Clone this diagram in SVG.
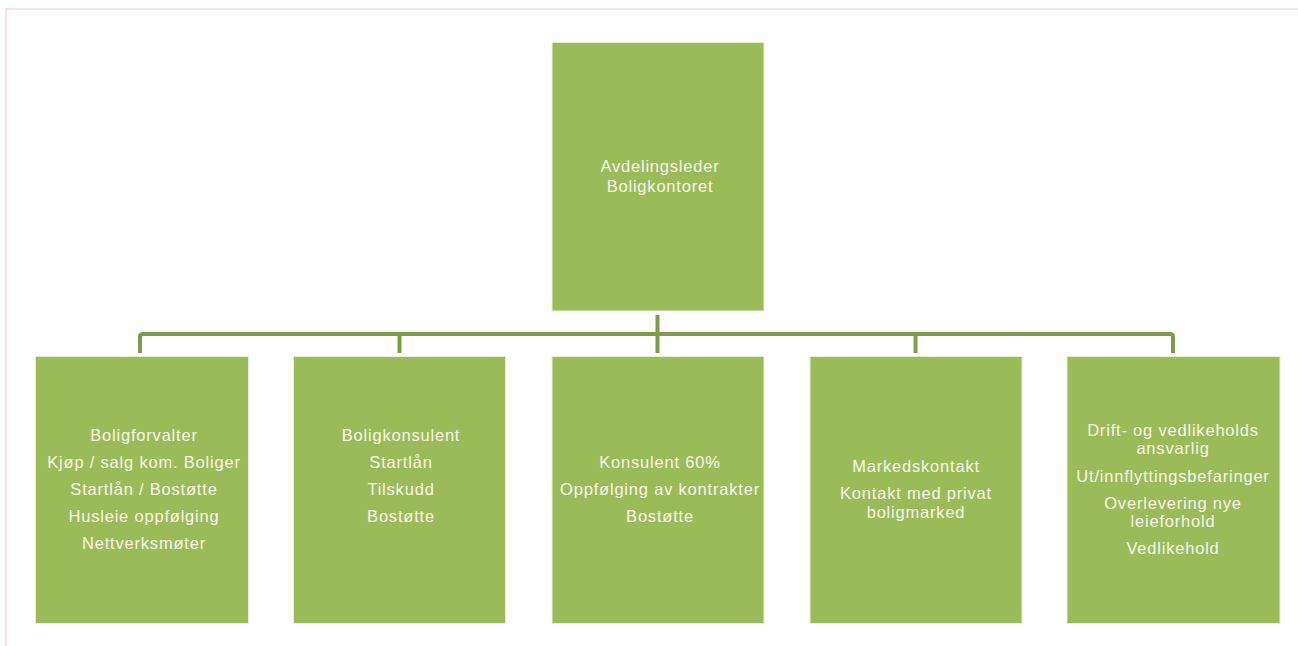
<svg xmlns="http://www.w3.org/2000/svg" width="1298" height="646" viewBox="0 0 1298 646">
  <style>
    .frame { fill: none; stroke: #fbd6de; stroke-width: 1.6; }
    .box { fill: #9bbb59; stroke: #e6efd6; stroke-width: 1; }
    .lbl { font-family: "Liberation Sans", Arial, sans-serif; font-size: 16.5px; fill: #f6f8ec; text-anchor: middle; letter-spacing: 0.8px; }
    .link { fill: none; stroke: #7d9b48; stroke-width: 4; stroke-linejoin: round; }
  </style>

  <rect width="1298" height="646" fill="#ffffff"/>
  <!-- page frame -->
  <path class="frame" d="M6 646 V9 H1298"/>

  <!-- connectors -->
  <g id="connectors">
    <path class="link" d="M657.5 315 V353"/>
    <path class="link" d="M140 353 V337 Q140 334 143 334 H1170 Q1173 334 1173 337 V353"/>
    <path class="link" d="M399.5 334 V353"/>
    <path class="link" d="M915.5 334 V353"/>
  </g>

  <g id="node-leder">
    <rect class="box" x="552" y="42.5" width="212" height="268.5"/>
    <text class="lbl" x="660" y="172">Avdelingsleder</text>
    <text class="lbl" x="660" y="192">Boligkontoret</text>
  </g>

  <g id="node-boligforvalter">
    <rect class="box" x="35.5" y="356.5" width="213" height="267"/>
    <text class="lbl" x="144" y="441">Boligforvalter</text>
    <text class="lbl" x="144" y="468">Kjøp / salg kom. Boliger</text>
    <text class="lbl" x="144" y="495">Startlån / Bostøtte</text>
    <text class="lbl" x="144" y="522">Husleie oppfølging</text>
    <text class="lbl" x="144" y="549">Nettverksmøter</text>
  </g>

  <g id="node-boligkonsulent">
    <rect class="box" x="293.5" y="356.5" width="212" height="267"/>
    <text class="lbl" x="401" y="441">Boligkonsulent</text>
    <text class="lbl" x="401" y="468">Startlån</text>
    <text class="lbl" x="401" y="495">Tilskudd</text>
    <text class="lbl" x="401" y="522">Bostøtte</text>
  </g>

  <g id="node-konsulent">
    <rect class="box" x="552" y="356.5" width="212" height="267"/>
    <text class="lbl" x="660" y="468">Konsulent 60%</text>
    <text class="lbl" x="660" y="495">Oppfølging av kontrakter</text>
    <text class="lbl" x="660" y="522">Bostøtte</text>
  </g>

  <g id="node-markedskontakt">
    <rect class="box" x="810" y="356.5" width="212" height="267"/>
    <text class="lbl" x="916" y="472">Markedskontakt</text>
    <text class="lbl" x="916" y="499">Kontakt med privat</text>
    <text class="lbl" x="916" y="518">boligmarked</text>
  </g>

  <g id="node-drift">
    <rect class="box" x="1067" y="356.5" width="213" height="267"/>
    <text class="lbl" x="1173" y="436">Drift- og vedlikeholds</text>
    <text class="lbl" x="1173" y="454">ansvarlig</text>
    <text class="lbl" x="1173" y="482">Ut/innflyttingsbefaringer</text>
    <text class="lbl" x="1173" y="509">Overlevering nye</text>
    <text class="lbl" x="1173" y="527">leieforhold</text>
    <text class="lbl" x="1173" y="554">Vedlikehold</text>
  </g>
</svg>
